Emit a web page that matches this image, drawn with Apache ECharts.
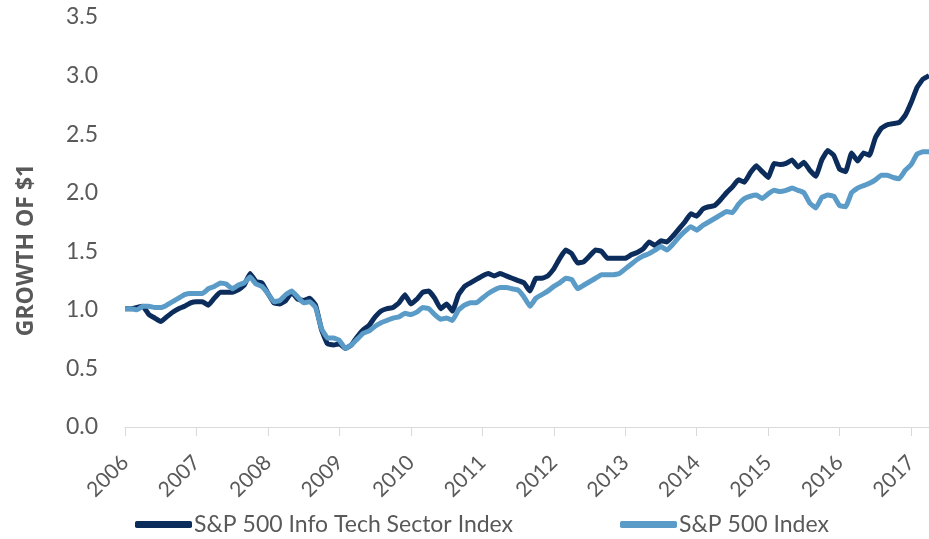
<!DOCTYPE html>
<html>
<head>
<meta charset="utf-8">
<script src="https://cdn.jsdelivr.net/npm/echarts@6/dist/echarts.min.js"></script>
<style>
  html, body { margin: 0; padding: 0; background: #fff; }
  #chart { width: 929px; height: 539px; }
</style>
</head>
<body>
<div id="chart"></div>
<script>
// monthly, Jan 2006 .. Apr 2017
const years = ["2006", "2007", "2008", "2009", "2010", "2011", "2012", "2013", "2014", "2015", "2016", "2017"];
const months = [];
years.forEach(y => {
  for (let m = 1; m <= 12; m++) months.push(y + "-" + String(m).padStart(2, "0"));
});
const categories = months.slice(0, 136);

// growth of $1
const infoTech = [
  1.01, 1.01, 1.02, 1.03, 0.96, 0.93, 0.90, 0.94, 0.98, 1.01, 1.03, 1.06,
  1.07, 1.07, 1.04, 1.10, 1.15, 1.15, 1.15, 1.17, 1.21, 1.31, 1.24, 1.23,
  1.14, 1.06, 1.05, 1.08, 1.15, 1.09, 1.08, 1.10, 1.04, 0.83, 0.71, 0.70,
  0.71, 0.67, 0.70, 0.77, 0.83, 0.87, 0.94, 0.99, 1.01, 1.02, 1.06, 1.13,
  1.05, 1.09, 1.15, 1.16, 1.10, 1.01, 1.05, 0.99, 1.13, 1.20, 1.23, 1.26,
  1.29, 1.31, 1.29, 1.31, 1.29, 1.27, 1.25, 1.23, 1.16, 1.27, 1.27, 1.29,
  1.35, 1.44, 1.51, 1.48, 1.40, 1.41, 1.46, 1.51, 1.50, 1.44, 1.44, 1.44,
  1.44, 1.47, 1.49, 1.52, 1.58, 1.55, 1.59, 1.58, 1.63, 1.69, 1.75, 1.82,
  1.80, 1.86, 1.88, 1.89, 1.94, 2.00, 2.05, 2.11, 2.09, 2.17, 2.23, 2.18,
  2.13, 2.25, 2.24, 2.25, 2.28, 2.22, 2.26, 2.19, 2.14, 2.28, 2.36, 2.32,
  2.20, 2.18, 2.34, 2.27, 2.34, 2.32, 2.47, 2.55, 2.58, 2.59, 2.60, 2.66,
  2.77, 2.90, 2.97, 3.00
];
const sp500 = [
  1.01, 1.01, 1.00, 1.03, 1.03, 1.02, 1.02, 1.04, 1.07, 1.10, 1.13, 1.14,
  1.14, 1.14, 1.18, 1.20, 1.23, 1.22, 1.18, 1.21, 1.23, 1.28, 1.22, 1.20,
  1.14, 1.07, 1.08, 1.13, 1.16, 1.11, 1.06, 1.07, 1.02, 0.84, 0.76, 0.76,
  0.74, 0.67, 0.70, 0.75, 0.80, 0.82, 0.86, 0.89, 0.91, 0.93, 0.94, 0.97,
  0.96, 0.98, 1.02, 1.01, 0.96, 0.92, 0.93, 0.91, 1.00, 1.04, 1.06, 1.06,
  1.10, 1.14, 1.17, 1.19, 1.19, 1.18, 1.17, 1.11, 1.03, 1.10, 1.13, 1.16,
  1.20, 1.23, 1.27, 1.26, 1.18, 1.21, 1.24, 1.27, 1.30, 1.30, 1.30, 1.31,
  1.35, 1.39, 1.43, 1.46, 1.48, 1.51, 1.54, 1.51, 1.56, 1.62, 1.67, 1.71,
  1.68, 1.72, 1.75, 1.78, 1.81, 1.84, 1.83, 1.90, 1.95, 1.97, 1.98, 1.95,
  1.99, 2.02, 2.01, 2.02, 2.04, 2.02, 2.00, 1.91, 1.87, 1.96, 1.98, 1.97,
  1.89, 1.88, 2.00, 2.04, 2.06, 2.08, 2.11, 2.15, 2.15, 2.13, 2.12, 2.19,
  2.24, 2.33, 2.35, 2.35
];
const yTicks = ["0.0", "0.5", "1.0", "1.5", "2.0", "2.5", "3.0", "3.5"];

const darkBlue = "#0c2d5c";
const lightBlue = "#5b9bc8";
const textGray = "#595959";
const font = "Lato, 'Noto Sans', sans-serif";

const chart = echarts.init(document.getElementById("chart"));

const legendBase = {
  top: 513,
  padding: 0,
  icon: "roundRect",
  itemWidth: 57,
  itemHeight: 7,
  itemGap: 4,
  textStyle: { color: textGray, fontSize: 23, fontFamily: font, padding: [0, 0, 0, -3] }
};

chart.setOption({
  animation: false,
  grid: { left: 125, right: 0, top: 17, bottom: 112, containLabel: false },
  legend: [
    Object.assign({}, legendBase, { left: 135, data: ["S&P 500 Info Tech Sector Index"] }),
    Object.assign({}, legendBase, { left: 620, data: ["S&P 500 Index"] })
  ],
  xAxis: {
    type: "category",
    data: categories,
    boundaryGap: false,
    axisLine: { lineStyle: { color: "#d9d9d9", width: 1 } },
    axisTick: {
      show: true,
      length: 9,
      interval: i => i % 12 === 0,
      lineStyle: { color: "#d9d9d9" }
    },
    axisLabel: {
      interval: i => i % 12 === 0,
      rotate: 45,
      margin: 32,
      color: textGray,
      fontSize: 21,
      fontFamily: font,
      formatter: v => years[years.indexOf(v.slice(0, 4))]
    },
    splitLine: { show: false }
  },
  yAxis: {
    type: "value",
    min: 0,
    max: 3.5,
    interval: 0.5,
    name: "GROWTH OF $1",
    nameLocation: "middle",
    nameRotate: 90,
    nameGap: 87,
    nameTextStyle: {
      color: textGray,
      fontSize: 23,
      fontWeight: 700,
      fontFamily: "'Open Sans', Lato, sans-serif",
      padding: [0, 56, 0, 0] // pushes the name a bit below the axis middle
    },
    axisLine: { show: false },
    axisTick: { show: false },
    splitLine: { show: false },
    axisLabel: {
      margin: 27,
      color: textGray,
      fontSize: 23,
      fontFamily: font,
      formatter: v => yTicks[Math.round(v / 0.5)]
    }
  },
  series: [
    {
      name: "S&P 500 Info Tech Sector Index",
      type: "line",
      data: infoTech,
      showSymbol: false,
      smooth: 0.1,
      z: 2,
      lineStyle: { color: darkBlue, width: 5 },
      itemStyle: { color: darkBlue }
    },
    {
      name: "S&P 500 Index",
      type: "line",
      data: sp500,
      showSymbol: false,
      smooth: 0.1,
      z: 3,
      lineStyle: { color: lightBlue, width: 5 },
      itemStyle: { color: lightBlue }
    }
  ]
});
</script>
</body>
</html>
